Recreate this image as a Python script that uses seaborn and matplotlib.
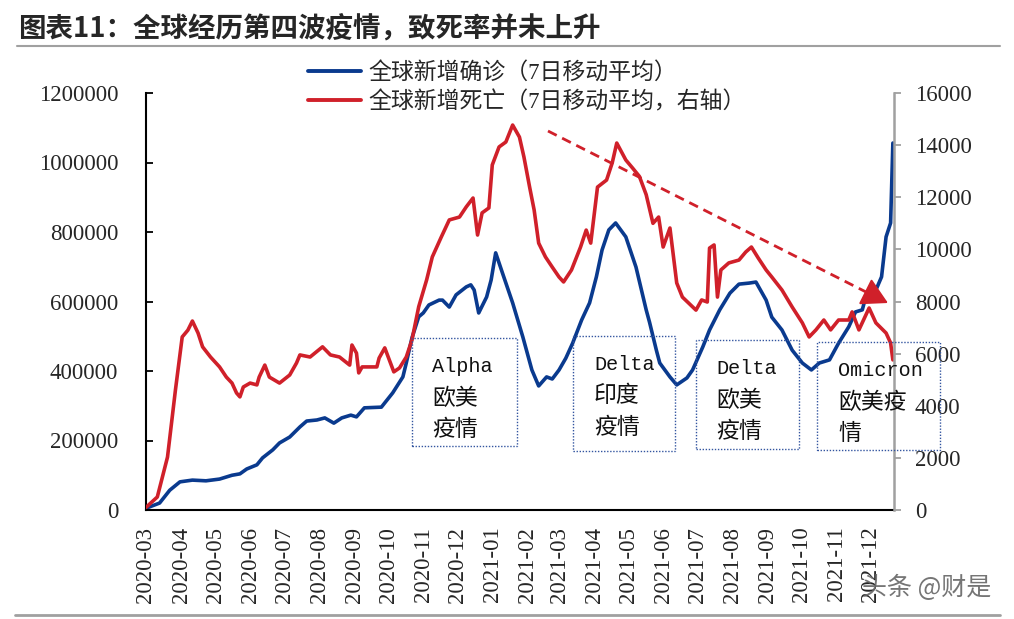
import matplotlib
matplotlib.use("Agg")
import matplotlib.pyplot as plt
import matplotlib.dates as mdates
from matplotlib.patches import Rectangle
from matplotlib.lines import Line2D
from matplotlib.ticker import FuncFormatter
import pandas as pd
import seaborn as sns

# ---------------- data ----------------
title = "图表11：全球经历第四波疫情，致死率并未上升"
legend_labels = ["全球新增确诊（7日移动平均）", "全球新增死亡（7日移动平均，右轴）"]

case_dates = ['2020-03-01', '2020-03-13', '2020-03-22', '2020-03-31', '2020-04-11', '2020-04-23',
              '2020-05-05', '2020-05-16', '2020-05-23', '2020-05-29', '2020-06-07', '2020-06-12',
              '2020-06-21', '2020-06-27', '2020-07-06', '2020-07-15', '2020-07-21', '2020-07-30',
              '2020-08-06', '2020-08-14', '2020-08-21', '2020-08-29', '2020-09-03', '2020-09-10',
              '2020-09-25', '2020-10-05', '2020-10-14', '2020-10-17', '2020-10-22', '2020-10-28',
              '2020-11-01', '2020-11-06', '2020-11-15', '2020-11-18', '2020-11-24', '2020-11-30',
              '2020-12-09', '2020-12-13', '2020-12-16', '2020-12-20', '2020-12-27', '2020-12-31',
              '2021-01-04', '2021-01-10', '2021-01-19', '2021-01-28', '2021-02-05', '2021-02-11',
              '2021-02-18', '2021-02-23', '2021-03-01', '2021-03-07', '2021-03-13', '2021-03-21',
              '2021-03-28', '2021-04-03', '2021-04-08', '2021-04-14', '2021-04-20', '2021-04-29',
              '2021-05-08', '2021-05-17', '2021-05-20', '2021-05-26', '2021-05-29', '2021-06-07',
              '2021-06-13', '2021-06-22', '2021-06-27', '2021-07-06', '2021-07-12', '2021-07-21',
              '2021-07-30', '2021-08-07', '2021-08-16', '2021-08-22', '2021-08-31', '2021-09-05',
              '2021-09-14', '2021-09-23', '2021-10-02', '2021-10-10', '2021-10-17', '2021-10-26',
              '2021-11-03', '2021-11-12', '2021-11-18', '2021-11-24', '2021-11-27', '2021-12-01',
              '2021-12-06', '2021-12-11', '2021-12-15', '2021-12-19', '2021-12-21']
case_values = [5000, 20000, 57000, 81000, 86000, 84000,
               89000, 100000, 104000, 118000, 130000, 150000,
               173000, 193000, 210000, 239000, 256000, 259000,
               265000, 250000, 265000, 273000, 268000, 294000,
               296000, 337000, 383000, 423000, 495000, 556000,
               567000, 590000, 604000, 604000, 584000, 619000,
               642000, 648000, 633000, 567000, 613000, 662000,
               740000, 682000, 596000, 498000, 403000, 357000,
               383000, 377000, 403000, 437000, 480000, 547000,
               596000, 671000, 748000, 806000, 826000, 786000,
               699000, 576000, 540000, 460000, 423000, 383000,
               360000, 380000, 403000, 469000, 518000, 576000,
               624000, 650000, 653000, 656000, 604000, 555000,
               518000, 460000, 423000, 403000, 423000, 432000,
               480000, 527000, 570000, 576000, 613000, 627000,
               633000, 671000, 786000, 826000, 1056000]

death_dates = ['2020-03-01', '2020-03-11', '2020-03-20', '2020-03-27', '2020-04-02', '2020-04-07',
               '2020-04-11', '2020-04-16', '2020-04-20', '2020-04-27', '2020-05-05', '2020-05-11',
               '2020-05-16', '2020-05-20', '2020-05-23', '2020-05-26', '2020-06-01', '2020-06-07',
               '2020-06-09', '2020-06-14', '2020-06-18', '2020-06-27', '2020-07-06', '2020-07-12',
               '2020-07-15', '2020-07-24', '2020-08-04', '2020-08-11', '2020-08-19', '2020-08-28',
               '2020-08-30', '2020-09-03', '2020-09-05', '2020-09-08', '2020-09-21', '2020-09-23',
               '2020-09-28', '2020-10-02', '2020-10-06', '2020-10-11', '2020-10-17', '2020-10-22',
               '2020-10-28', '2020-11-04', '2020-11-09', '2020-11-17', '2020-11-24', '2020-12-03',
               '2020-12-09', '2020-12-15', '2020-12-19', '2020-12-23', '2020-12-29', '2021-01-01',
               '2021-01-07', '2021-01-13', '2021-01-19', '2021-01-25', '2021-01-29', '2021-02-03',
               '2021-02-07', '2021-02-11', '2021-02-17', '2021-02-23', '2021-03-01', '2021-03-05',
               '2021-03-12', '2021-03-20', '2021-03-25', '2021-03-29', '2021-04-04', '2021-04-12',
               '2021-04-17', '2021-04-21', '2021-04-29', '2021-05-05', '2021-05-11', '2021-05-17',
               '2021-05-23', '2021-05-28', '2021-06-01', '2021-06-07', '2021-06-13', '2021-06-18',
               '2021-06-30', '2021-07-05', '2021-07-10', '2021-07-12', '2021-07-16', '2021-07-19',
               '2021-07-22', '2021-07-29', '2021-08-07', '2021-08-13', '2021-08-18', '2021-08-24',
               '2021-08-31', '2021-09-05', '2021-09-14', '2021-09-23', '2021-10-02', '2021-10-08',
               '2021-10-14', '2021-10-21', '2021-10-27', '2021-11-03', '2021-11-12', '2021-11-15',
               '2021-11-21', '2021-11-30', '2021-12-06', '2021-12-15', '2021-12-19', '2021-12-21']
death_values = [100, 500, 2030, 4600, 6640, 6900,
                7250, 6790, 6260, 5870, 5490, 5100,
                4870, 4490, 4340, 4720, 4870, 4800,
                5100, 5560, 5100, 4870, 5180, 5640,
                5950, 5870, 6260, 5950, 5870, 5560,
                6330, 6020, 5260, 5490, 5490, 5830,
                6220, 5760, 5300, 5450, 5870, 6520,
                7800, 8830, 9710, 10480, 11130, 11240,
                11630, 11970, 10550, 11400, 11590, 13240,
                13930, 14120, 14770, 14310, 13540, 12390,
                11510, 10240, 9710, 9320, 8940, 8750,
                9210, 10090, 10740, 10240, 12390, 12660,
                13320, 14080, 13430, 13120, 12800, 12100,
                11000, 11240, 10090, 10820, 8710, 8170,
                7670, 8060, 7980, 10050, 10170, 8170,
                9210, 9480, 9590, 9900, 10090, 9670,
                9210, 8940, 8440, 7790, 7180, 6640,
                6910, 7290, 6910, 7290, 7290, 7600,
                6910, 7750, 7180, 6790, 6410, 5760]

box_lines = [["Alpha", "欧美", "疫情"],
             ["Delta", "印度", "疫情"],
             ["Delta", "欧美", "疫情"],
             ["Omicron", "欧美疫", "情"]]
watermark = "头条 @财是"

# ---------------- style ----------------
BLUE = "#0A3A8E"
RED = "#D0202A"
GREY = "#A0A0A0"

sns.set_style("white")
plt.rcParams['font.family'] = ['Liberation Serif', 'Noto Sans CJK SC']
plt.rcParams['axes.unicode_minus'] = False

W, H = 1014, 619
fig = plt.figure(figsize=(W / 100, H / 100), dpi=100)


def fx(px):
    return px / W


def fy(py):
    return 1 - py / H


ax = fig.add_axes([fx(146), fy(510), fx(894) - fx(146), fy(93) - fy(510)])
ax2 = ax.twinx()

cases = pd.DataFrame({"date": pd.to_datetime(case_dates), "value": case_values})
deaths = pd.DataFrame({"date": pd.to_datetime(death_dates), "value": death_values})

sns.lineplot(data=cases, x="date", y="value", ax=ax, color=BLUE, lw=2.6, legend=False)
sns.lineplot(data=deaths, x="date", y="value", ax=ax2, color=RED, lw=2.6, legend=False)

ax.set_xlim(pd.Timestamp("2020-03-01"), pd.Timestamp("2021-12-22"))
ax.set_ylim(0, 1200000)
ax.set_yticks(range(0, 1200001, 200000))
ax2.set_ylim(0, 16000)
ax2.set_yticks(range(0, 16001, 2000))
fmt = FuncFormatter(lambda v, p: f"{int(round(v))}")
ax.yaxis.set_major_formatter(fmt)
ax2.yaxis.set_major_formatter(fmt)
ax.xaxis.set_major_locator(mdates.MonthLocator())
ax.xaxis.set_major_formatter(mdates.DateFormatter("%Y-%m"))

for a in (ax, ax2):
    a.set_xlabel("")
    a.set_ylabel("")
    a.grid(False)
    a.spines["top"].set_visible(False)

ax.spines["right"].set_visible(False)
ax2.spines["left"].set_visible(False)
ax2.spines["bottom"].set_visible(False)
ax.spines["left"].set_color("black")
ax.spines["left"].set_linewidth(1.5)
ax.spines["bottom"].set_color("black")
ax.spines["bottom"].set_linewidth(1.5)
ax2.spines["right"].set_color(GREY)
ax2.spines["right"].set_linewidth(1.8)

ax.tick_params(axis="x", direction="in", length=5, width=1.3, color="black",
               labelsize=16.5, pad=12, labelrotation=90)
ax.tick_params(axis="y", direction="in", length=5, width=1.3, color="black",
               labelsize=16.5, pad=20)
ax2.tick_params(axis="y", direction="out", length=5, width=1.3, color=GREY,
                labelsize=16.5, pad=10)

# legend
handles = [Line2D([], [], color=BLUE, lw=2.8), Line2D([], [], color=RED, lw=2.8)]
fig.legend(handles, legend_labels, loc="upper left", bbox_to_anchor=(fx(308), fy(62)),
           frameon=False, fontsize=16.5, handlelength=2.3, handletextpad=0.35,
           labelspacing=0.3, borderpad=0, borderaxespad=0)

# title and rules
fig.text(fx(18), fy(28), title, fontsize=19.8, fontweight="bold",
         family=["Noto Sans CJK SC", "DejaVu Sans"], ha="left", va="center")
fig.add_artist(Line2D([fx(17), fx(1000)], [fy(46), fy(46)], color=GREY, lw=1.5,
                      transform=fig.transFigure))
fig.add_artist(Line2D([fx(15), fx(1000)], [fy(615), fy(615)], color=GREY, lw=2,
                      transform=fig.transFigure))

# dashed trend arrow
fig.add_artist(Line2D([fx(548), fx(872)], [fy(131), fy(295)], color=RED, lw=2,
                      linestyle=(0, (3.5, 2.2)), transform=fig.transFigure))
ax.annotate("", xy=(fx(888), fy(303)), xytext=(fx(866), fy(292)),
            xycoords="figure fraction", textcoords="figure fraction",
            arrowprops=dict(arrowstyle="-|>,head_length=0.9,head_width=0.5",
                            color=RED, lw=1.5, mutation_scale=18, shrinkA=0, shrinkB=0))

# annotation boxes (pixel layout)
boxes = [(412, 338, 517, 446), (573, 336, 675, 451), (696, 340, 799, 449), (817, 342, 940, 450)]
text_x = [432, 594, 716, 838]
text_y = [(366, 398, 430), (364, 396, 428), (368, 400, 431), (371, 402, 433)]
for (x0, y0, x1, y1), tx, tys, lines in zip(boxes, text_x, text_y, box_lines):
    fig.add_artist(Rectangle((fx(x0), fy(y1)), fx(x1) - fx(x0), fy(y0) - fy(y1),
                             transform=fig.transFigure, fill=False,
                             edgecolor="#3355A0", lw=1.0, linestyle=(0, (1, 1.2))))
    for i, (line, ty) in enumerate(zip(lines, tys)):
        if i == 0:
            fig.text(fx(tx), fy(ty), line, fontsize=14.5, family=["Liberation Mono"],
                     ha="left", va="center", color="#111111")
        else:
            fig.text(fx(tx), fy(ty), line, fontsize=16.5, family=["Noto Sans CJK SC"],
                     ha="left", va="center", color="#111111")

fig.text(fx(862), fy(588), watermark, fontsize=18, family=["Noto Sans CJK SC", "DejaVu Sans"],
         ha="left", va="center", color="#666666", alpha=0.9)

fig.save = None
fig.savefig("out.png", dpi=100)
